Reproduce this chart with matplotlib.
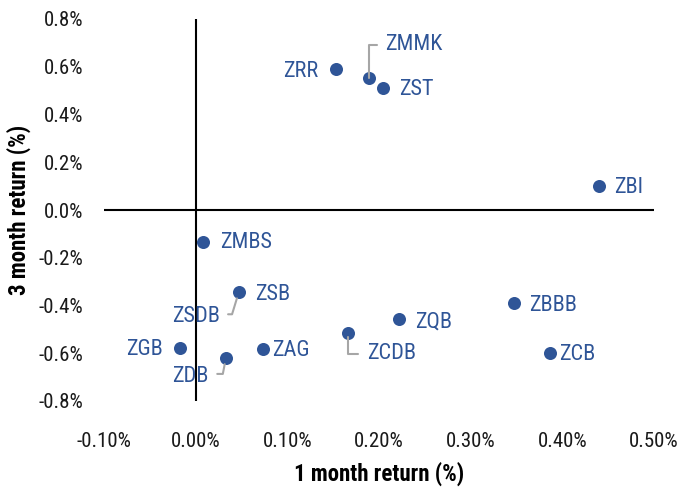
import matplotlib
matplotlib.use("Agg")
import matplotlib.pyplot as plt
from matplotlib import font_manager
from matplotlib.ticker import FuncFormatter

names = ["ZRR", "ZMMK", "ZST", "ZBI", "ZMBS", "ZSB", "ZSDB", "ZGB", "ZDB",
         "ZAG", "ZCDB", "ZQB", "ZBBB", "ZCB"]
one_month = [0.153, 0.189, 0.204, 0.440, 0.008, 0.047, 0.047, -0.017, 0.033,
             0.073, 0.166, 0.222, 0.347, 0.386]
three_month = [0.590, 0.553, 0.511, 0.100, -0.135, -0.345, -0.345, -0.577, -0.620,
               -0.583, -0.515, -0.457, -0.390, -0.600]
x_ticks = [-0.10, 0.00, 0.10, 0.20, 0.30, 0.40, 0.50]
y_ticks = [-0.8, -0.6, -0.4, -0.2, 0.0, 0.2, 0.4, 0.6, 0.8]

# ZSDB sits on top of ZSB, so only its label (with leader) is visible
plot_mask = [True, True, True, True, True, True, False, True, True,
             True, True, True, True, True]

available = {f.name for f in font_manager.fontManager.ttflist}
family = "DejaVu Sans"
for cand in ["Liberation Sans Narrow", "DejaVu Sans Condensed", "Roboto Condensed",
             "Open Sans Condensed", "Liberation Sans"]:
    if cand in available:
        family = cand
        break
plt.rcParams["font.family"] = [family, "DejaVu Sans"]

blue = "#2F5597"
gray = "#A6A6A6"

fig = plt.figure(figsize=(6.98, 4.87), dpi=100)
ax = fig.add_axes([104 / 698, 1 - 401 / 487, 550 / 698, 382 / 487])

xs = [x for x, m in zip(one_month, plot_mask) if m]
ys = [y for y, m in zip(three_month, plot_mask) if m]
ax.scatter(xs, ys, s=88, color=blue, zorder=3, linewidths=0)

ax.set_xlim(-0.10, 0.50)
ax.set_ylim(-0.8, 0.8)
ax.axhline(0, color="black", lw=1.5, zorder=1)
ax.axvline(0, color="black", lw=1.5, zorder=1)
for s in ax.spines.values():
    s.set_visible(False)
ax.set_xticks(x_ticks)
ax.set_yticks(y_ticks)
ax.xaxis.set_major_formatter(FuncFormatter(lambda v, p: f"{v:.2f}%"))
ax.yaxis.set_major_formatter(FuncFormatter(lambda v, p: f"{v:.1f}%"))
ax.tick_params(axis="both", length=0, labelsize=15, colors="#1a1a1a")
ax.tick_params(axis="x", pad=22)
ax.tick_params(axis="y", pad=15)
ax.set_xlabel("1 month return (%)", fontsize=16.5, fontweight="bold", labelpad=8)
ax.set_ylabel("3 month return (%)", fontsize=16.5, fontweight="bold", labelpad=5)

# label offsets in pixels: (dx, dy, ha)
offsets = {
    "ZRR": (-18, -2, "right"),
    "ZST": (16, -2, "left"),
    "ZBI": (15, -1, "left"),
    "ZMBS": (17, 0, "left"),
    "ZSB": (16, -2, "left"),
    "ZGB": (-17, -2, "right"),
    "ZAG": (9, -1, "left"),
    "ZQB": (16, -3, "left"),
    "ZBBB": (15, -2, "left"),
    "ZCB": (10, -1, "left"),
}
leaders = {
    "ZMMK": (16, 33, "left", "angle,angleA=0,angleB=90,rad=0", (0, 0.5), 0),
    "ZSDB": (-19, -24, "right", "angle,angleA=0,angleB=73,rad=0", (1, 0.6), 4.5),
    "ZDB": (-17, -18, "right", "angle,angleA=0,angleB=79,rad=0", (1, 0.6), 4.5),
    "ZCDB": (19, -21, "left", "angle,angleA=0,angleB=90,rad=0", (0, 0.5), 3),
}
for name, x, y in zip(names, one_month, three_month):
    if name in offsets:
        dx, dy, ha = offsets[name]
        ax.annotate(name, (x, y), xytext=(dx, dy), textcoords="offset pixels",
                    ha=ha, va="center", color=blue, fontsize=16, zorder=4)
    else:
        dx, dy, ha, cs, rp, sb = leaders[name]
        ax.annotate(name, (x, y), xytext=(dx, dy), textcoords="offset pixels",
                    ha=ha, va="center", color=blue, fontsize=16, zorder=4,
                    arrowprops=dict(arrowstyle="-", color=gray, lw=1.5,
                                    connectionstyle=cs, relpos=rp,
                                    shrinkA=4, shrinkB=sb))

fig.savefig("out.png", dpi=100)
